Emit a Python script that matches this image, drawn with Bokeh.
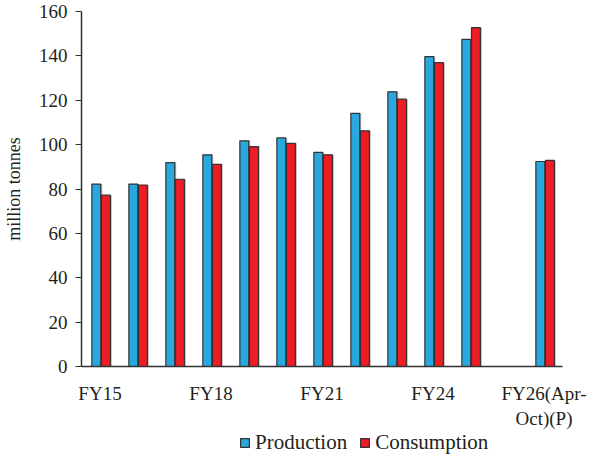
from bokeh.plotting import figure
from bokeh.layouts import column
from bokeh.models import Range1d, FixedTicker, Legend, LegendItem, ColumnDataSource
from bokeh.transform import dodge
from bokeh.embed import file_html
from bokeh.resources import INLINE

categories = ["FY15", "FY16", "FY17", "FY18", "FY19", "FY20", "FY21", "FY22",
              "FY23", "FY24", "FY25", "", "FY26(Apr-Oct)(P)"]
production = [82.2, 82.2, 91.9, 95.4, 101.7, 103.0, 96.5, 114.1, 123.8, 139.7, 147.4, None, 92.4]
consumption = [77.2, 81.8, 84.4, 91.1, 99.1, 100.6, 95.4, 106.2, 120.5, 137.0, 152.7, None, 92.9]
tick_labels = {0: "FY15", 3: "FY18", 6: "FY21", 9: "FY24", 12: "FY26(Apr-\nOct)(P)"}
series_names = ["Production", "Consumption"]

FONT = "Liberation Serif"
TXT = "#231f20"

idx = [i for i, v in enumerate(production) if v is not None]
src = ColumnDataSource(dict(
    x=[i + 0.5 for i in idx],
    prod=[production[i] for i in idx],
    cons=[consumption[i] for i in idx],
))

p = figure(width=589, height=431, output_backend="svg", toolbar_location=None,
           x_range=Range1d(0, len(categories)), y_range=Range1d(0, 160),
           min_border_left=75, min_border_right=27, min_border_top=11, min_border_bottom=56)
p.outline_line_color = None
p.grid.grid_line_color = None

w = 0.24
p.vbar(x=dodge("x", -0.10 + 0.04, range=p.x_range), top="prod", width=w, source=src,
       fill_color="#aaaaaa", line_color=None, fill_alpha=0.8)
p.vbar(x=dodge("x", 0.16 + 0.04, range=p.x_range), top="cons", width=w, source=src,
       fill_color="#aaaaaa", line_color=None, fill_alpha=0.8)
p.vbar(x=dodge("x", -0.10, range=p.x_range), top="prod", width=w, source=src,
       fill_color="#29A8E0", line_color="#333333", line_width=1.2)
p.vbar(x=dodge("x", 0.16, range=p.x_range), top="cons", width=w, source=src,
       fill_color="#EE1C25", line_color="#333333", line_width=1.2)

p.xaxis.ticker = FixedTicker(ticks=[k + 0.5 for k in tick_labels])
p.xaxis.major_label_overrides = {k + 0.5: v for k, v in tick_labels.items()}
p.xaxis.major_tick_line_color = None
p.xaxis.minor_tick_line_color = None
p.xaxis.axis_line_color = "#333333"
p.xaxis.axis_line_width = 1.5
p.xaxis.major_label_text_font = FONT
p.xaxis.major_label_text_font_size = "19px"
p.xaxis.major_label_text_color = TXT
p.xaxis.major_label_standoff = 10

p.yaxis.ticker = FixedTicker(ticks=list(range(0, 161, 20)))
p.yaxis.minor_tick_line_color = None
p.yaxis.major_tick_in = 0
p.yaxis.major_tick_out = 6
p.yaxis.axis_line_color = "#333333"
p.yaxis.axis_line_width = 1.5
p.yaxis.major_tick_line_color = "#333333"
p.yaxis.major_label_text_font = FONT
p.yaxis.major_label_text_font_size = "19px"
p.yaxis.major_label_text_color = TXT
p.yaxis.major_label_standoff = 8
p.yaxis.axis_label = "million tonnes"
p.yaxis.axis_label_text_font = FONT
p.yaxis.axis_label_text_font_size = "18px"
p.yaxis.axis_label_text_font_style = "normal"
p.yaxis.axis_label_text_color = TXT
p.yaxis.axis_label_standoff = 12

# legend strip below the chart (its bars lie outside its visible range)
p2 = figure(width=589, height=24, output_backend="svg", toolbar_location=None,
            x_axis_location=None, y_axis_location=None,
            x_range=Range1d(0, len(categories)), y_range=Range1d(1000, 1001),
            min_border_left=0, min_border_right=0, min_border_top=0, min_border_bottom=0)
p2.outline_line_color = None
p2.grid.grid_line_color = None
lp = p2.vbar(x="x", top="prod", width=w, source=src,
             fill_color="#29A8E0", line_color="#333333", line_width=1.2)
lc = p2.vbar(x="x", top="cons", width=w, source=src,
             fill_color="#EE1C25", line_color="#333333", line_width=1.2)
legend = Legend(items=[LegendItem(label=series_names[0], renderers=[lp]),
                       LegendItem(label=series_names[1], renderers=[lc])],
                orientation="horizontal", location=(158, 0),
                label_text_font=FONT, label_text_font_size="21px",
                label_text_color=TXT, glyph_width=11, glyph_height=11,
                spacing=12, border_line_color=None, background_fill_alpha=0,
                label_standoff=5, padding=0, margin=0)
p2.add_layout(legend)

layout = column(p, p2, spacing=0)
open("out.html", "w").write(file_html(layout, INLINE))
